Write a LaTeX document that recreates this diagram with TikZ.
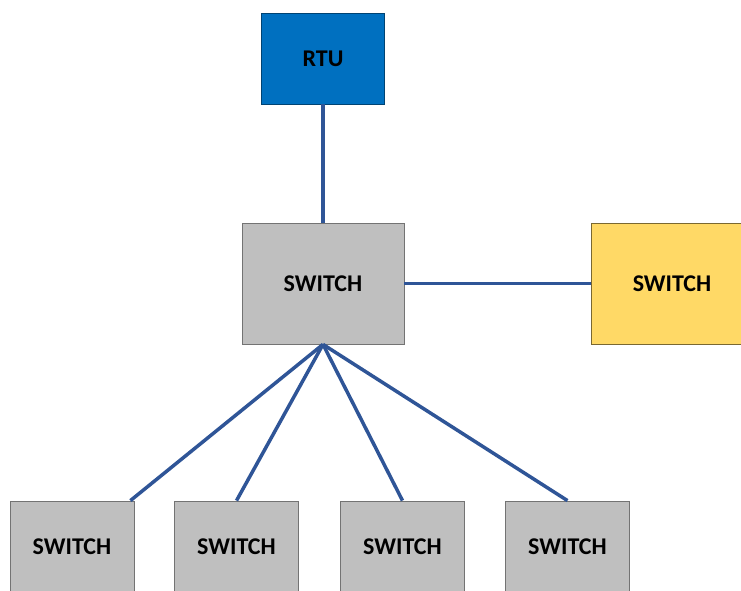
\documentclass[tikz,border=0pt]{standalone}
\usepackage{fontspec}
\setmainfont{Carlito}
\usetikzlibrary{positioning}
\definecolor{color1}{RGB}{0,112,192}
\definecolor{color2}{RGB}{191,191,191}
\definecolor{color3}{RGB}{255,217,102}
\definecolor{color4}{RGB}{47,85,151}

\begin{document}
\begin{tikzpicture}[x=1pt,y=-1pt,
		box/.style={rectangle,draw=#1!60!black,line width=0.8pt,inner sep=0pt,
			font=\fontsize{24}{28}\selectfont\bfseries,text=black},
		rtubox/.style={box=color1,fill=color1,minimum width=123pt,minimum height=91pt},
		bigswitch/.style={box=color2,fill=color2,minimum width=162pt,minimum height=121pt},
		smallswitch/.style={box=color2,fill=color2,minimum width=124pt,minimum height=91pt},
		link/.style={draw=color4,line width=3.5pt}]
		\useasboundingbox (0,0) rectangle (741,590);
		
		\node[rtubox] (rtu) at (323,58.5) {RTU};
		\node[bigswitch] (core) at (323,283.5) {SWITCH};
		\node[bigswitch,box=color3!80!black,fill=color3] (side) at (672,283.5) {SWITCH};
		\node[smallswitch] (sw1) at (72,546.5) {SWITCH};
		\node[smallswitch] (sw2) at (236.5,546.5) {SWITCH};
		\node[smallswitch] (sw3) at (402.5,546.5) {SWITCH};
		\node[smallswitch] (sw4) at (567.5,546.5) {SWITCH};
		
		\path[link] (rtu) -- (core);
		\path[link] (core) -- (side);
		\path[link] (core.south) -- ([xshift=-4pt]sw1.north east);
		\foreach \n in {sw2,sw3,sw4}
		    \path[link] (core.south) -- (\n.north);
		
		\end{tikzpicture}
\end{document}
